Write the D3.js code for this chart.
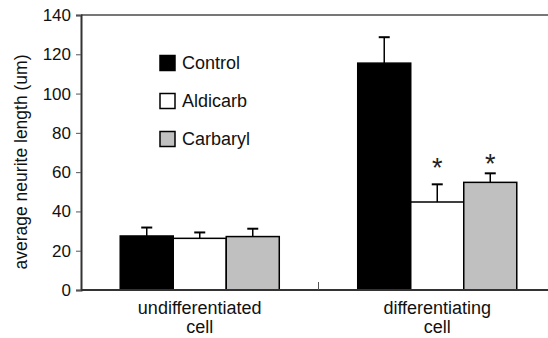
<!DOCTYPE html>
<html>
<head>
<meta charset="utf-8">
<script src="https://cdn.jsdelivr.net/npm/d3@7"></script>
<style>
  body { margin: 0; background: #fff; }
  svg { display: block; font-family: 'Liberation Sans', Arial, sans-serif; }
</style>
</head>
<body>
<div id="chart"></div>
<script>
// groups along the x axis
const groups = ['undifferentiated cell', 'differentiating cell'];
const groupLines = [['undifferentiated', 'cell'], ['differentiating', 'cell']];
// treatments (series)
const series = ['Control', 'Aldicarb', 'Carbaryl'];
const colors = ['#000000', '#ffffff', '#c0c0c0'];
// mean values per series, one per group
const controlValues = [27.5, 115.5];
const aldicarbValues = [26.3, 44.8];
const carbarylValues = [27.2, 54.8];
// error (SD) per series
const controlErr = [4.3, 13.2];
const aldicarbErr = [3.0, 9.0];
const carbarylErr = [4.0, 4.6];
// significance marks: height (value units) of the asterisk, null = none
const controlStar = [null, null];
const aldicarbStar = [null, 65.3];
const carbarylStar = [null, 67.1];
const yTicks = [0, 20, 40, 60, 80, 100, 120, 140];

const values = [controlValues, aldicarbValues, carbarylValues];
const errors = [controlErr, aldicarbErr, carbarylErr];
const stars = [controlStar, aldicarbStar, carbarylStar];

const W = 548, H = 338;
const margin = {top: 15, left: 81, bottom: 48};
const plotRight = 556; // the original figure is cropped on the right

const svg = d3.select('#chart').append('svg')
  .attr('width', W)
  .attr('height', H);

const x = d3.scaleBand()
  .domain(groups)
  .range([margin.left, plotRight]);

const xInner = d3.scaleBand()
  .domain(series)
  .range([0, x.bandwidth()])
  .paddingInner(0)
  .paddingOuter(0.74);

const y = d3.scaleLinear()
  .domain([0, 140])
  .range([H - margin.bottom, margin.top]);

// top frame line
svg.append('line')
  .attr('x1', margin.left).attr('x2', W)
  .attr('y1', y(140)).attr('y2', y(140))
  .attr('stroke', '#777').attr('stroke-width', 2);

// bars
groups.forEach(function (g, gi) {
  series.forEach(function (s, si) {
    const bx = x(g) + xInner(s);
    const v = values[si][gi];
    svg.append('rect')
      .attr('x', bx)
      .attr('y', y(v))
      .attr('width', xInner.bandwidth())
      .attr('height', y(0) - y(v))
      .attr('fill', colors[si])
      .attr('stroke', '#000')
      .attr('stroke-width', 1.5);

    // error bar
    const cx = bx + xInner.bandwidth() / 2;
    const top = v + errors[si][gi];
    svg.append('line')
      .attr('x1', cx).attr('x2', cx)
      .attr('y1', y(v)).attr('y2', y(top))
      .attr('stroke', '#000').attr('stroke-width', 1.5);
    svg.append('line')
      .attr('x1', cx - 5.5).attr('x2', cx + 5.5)
      .attr('y1', y(top)).attr('y2', y(top))
      .attr('stroke', '#000').attr('stroke-width', 2);

    const star = stars[si][gi];
    if (star !== null) {
      svg.append('text')
        .attr('x', cx)
        .attr('y', y(star) + 15)
        .attr('text-anchor', 'middle')
        .style('font-size', '27px')
        .attr('fill', '#222')
        .text('*');
    }
  });
});

// y axis
const yAxis = svg.append('g')
  .attr('transform', 'translate(' + margin.left + ',0)')
  .call(d3.axisLeft(y).tickValues(yTicks).tickSize(5).tickPadding(5));
yAxis.select('.domain').attr('stroke', '#333').attr('stroke-width', 2);
yAxis.selectAll('.tick line').attr('stroke', '#555').attr('stroke-width', 1);
yAxis.selectAll('.tick text')
  .style('font-size', '17px')
  .style('font-family', "'Liberation Sans', Arial, sans-serif")
  .attr('fill', '#111');

// x axis baseline
svg.append('line')
  .attr('x1', margin.left).attr('x2', W)
  .attr('y1', y(0)).attr('y2', y(0))
  .attr('stroke', '#333').attr('stroke-width', 2);

// separator tick between groups
svg.append('line')
  .attr('x1', x(groups[1])).attr('x2', x(groups[1]))
  .attr('y1', y(0)).attr('y2', y(0) - 8)
  .attr('stroke', '#555').attr('stroke-width', 1);

// x labels
groups.forEach(function (g, gi) {
  const t = svg.append('text')
    .attr('x', x(g) + x.bandwidth() / 2)
    .attr('y', 314)
    .attr('text-anchor', 'middle')
    .style('font-size', '18px')
    .attr('fill', '#111');
  groupLines[gi].forEach(function (line, li) {
    t.append('tspan')
      .attr('x', x(g) + x.bandwidth() / 2)
      .attr('dy', li === 0 ? 0 : 19)
      .text(line);
  });
});

// y axis title
svg.append('text')
  .attr('transform', 'translate(27,162) rotate(-90)')
  .attr('text-anchor', 'middle')
  .style('font-size', '17.5px')
  .attr('fill', '#111')
  .text('average neurite length (um)');

// legend
series.forEach(function (s, si) {
  const ly = 63 + si * 38;
  svg.append('rect')
    .attr('x', 160)
    .attr('y', ly - 7.5)
    .attr('width', 15)
    .attr('height', 15)
    .attr('fill', colors[si])
    .attr('stroke', '#000')
    .attr('stroke-width', 1.5);
  svg.append('text')
    .attr('x', 182)
    .attr('y', ly)
    .attr('dy', '0.36em')
    .style('font-size', '18px')
    .attr('fill', '#111')
    .text(s);
});
</script>
</body>
</html>
